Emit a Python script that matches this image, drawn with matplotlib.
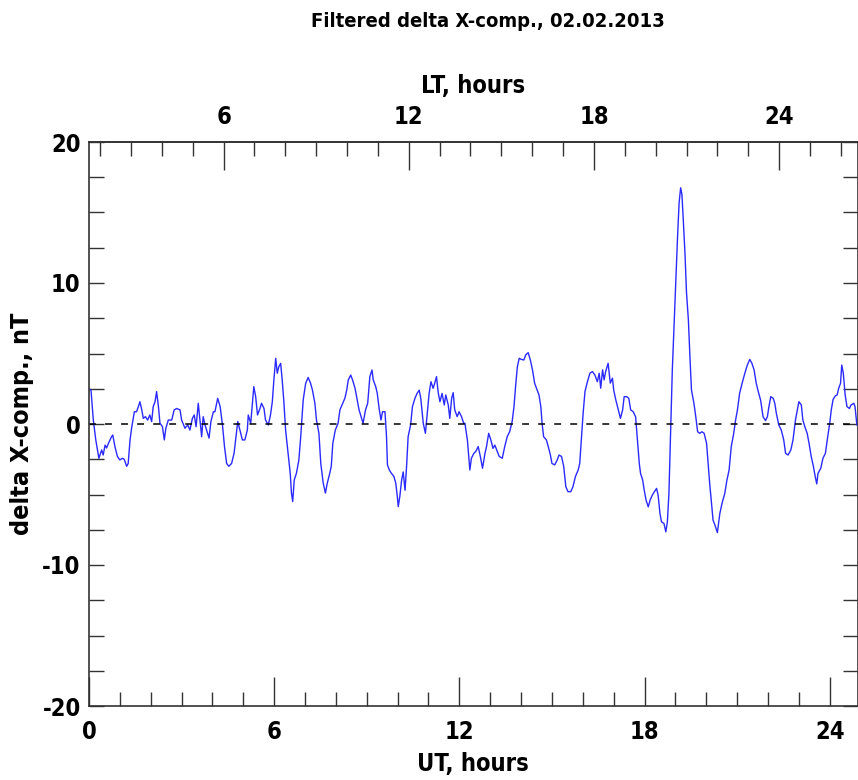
import matplotlib
matplotlib.use("Agg")
import matplotlib.pyplot as plt
from matplotlib.ticker import MultipleLocator, FixedLocator

plt.rcParams["font.family"] = ["DejaVu Sans"]
plt.rcParams["font.stretch"] = "condensed"
plt.rcParams["font.weight"] = "bold"
plt.rcParams["axes.unicode_minus"] = False

# UT hours and filtered delta X (nT)
ut_hours = [
    0.0, 0.065, 0.14, 0.22, 0.32, 0.41, 0.46, 0.52, 0.57, 0.63, 0.73, 0.77, 0.84, 0.92,
    1.0, 1.08, 1.14, 1.22, 1.27, 1.33, 1.38, 1.47, 1.54, 1.6, 1.65, 1.7, 1.76, 1.83, 1.9,
    1.97, 2.03, 2.08, 2.14, 2.19, 2.25, 2.3, 2.38, 2.44, 2.49, 2.57, 2.68, 2.76, 2.84,
    2.95, 3.0, 3.11, 3.2, 3.27, 3.35, 3.41, 3.47, 3.54, 3.59, 3.65, 3.7, 3.76, 3.81,
    3.89, 3.95, 4.03,
    4.08, 4.17, 4.25, 4.33, 4.39, 4.46, 4.53, 4.62, 4.7, 4.75, 4.82, 4.89, 4.97, 5.05,
    5.13, 5.16, 5.24, 5.29, 5.34, 5.4, 5.46, 5.54, 5.59, 5.67, 5.72, 5.81, 5.88, 5.94,
    5.99, 6.05, 6.1, 6.15, 6.21, 6.26, 6.31, 6.37, 6.45, 6.52, 6.56, 6.6, 6.65, 6.72,
    6.8, 6.86, 6.94, 7.02, 7.1, 7.18, 7.24, 7.32, 7.37, 7.45, 7.51, 7.59, 7.66, 7.72,
    7.8, 7.85, 7.9, 7.98, 8.07,
    8.13, 8.22, 8.29, 8.35, 8.4, 8.48, 8.54, 8.62, 8.69, 8.75, 8.83, 8.88, 8.96, 9.03,
    9.1, 9.17, 9.21, 9.29, 9.34, 9.4, 9.46, 9.51, 9.59, 9.64, 9.67, 9.73, 9.8, 9.88,
    9.94, 9.99, 10.02, 10.07, 10.13, 10.18, 10.24, 10.29, 10.34, 10.42, 10.48, 10.56,
    10.63, 10.7, 10.75, 10.83, 10.9, 10.97, 11.02, 11.08, 11.15, 11.2, 11.26, 11.31,
    11.37, 11.44, 11.51, 11.56, 11.64, 11.69, 11.75, 11.8, 11.85, 11.93, 11.99, 12.07,
    12.14,
    12.18, 12.26, 12.34, 12.39, 12.47, 12.53, 12.61, 12.68, 12.75, 12.83, 12.88, 12.95,
    13.02, 13.09, 13.15, 13.23, 13.29, 13.39, 13.47, 13.55, 13.63, 13.71, 13.77, 13.83,
    13.88, 13.94, 14.01, 14.09, 14.15, 14.23, 14.3, 14.37, 14.44, 14.52, 14.58, 14.64,
    14.68, 14.73, 14.82, 14.88, 14.95, 15.0, 15.09, 15.17, 15.23, 15.31, 15.38, 15.45,
    15.52, 15.61, 15.68, 15.76, 15.85, 15.9, 15.96, 16.01, 16.07, 16.15,
    16.23, 16.31, 16.39, 16.47, 16.53, 16.58, 16.64, 16.69, 16.74, 16.82, 16.89, 16.96,
    17.0, 17.07, 17.15, 17.22, 17.29, 17.34, 17.42, 17.49, 17.55, 17.63, 17.71, 17.76,
    17.83, 17.87, 17.94, 17.99, 18.05, 18.12, 18.18, 18.25, 18.32, 18.39, 18.44, 18.5,
    18.55, 18.63, 18.69, 18.74, 18.79, 18.84, 18.9, 18.95, 19.01, 19.07, 19.12, 19.17,
    19.21, 19.25, 19.31, 19.36, 19.42, 19.47, 19.52, 19.6, 19.66, 19.72, 19.79, 19.86,
    19.93, 20.01, 20.06, 20.11, 20.17, 20.22,
    20.28, 20.36, 20.44, 20.51, 20.6, 20.67, 20.74, 20.81, 20.89, 20.95, 21.01, 21.08,
    21.16, 21.25, 21.33, 21.41, 21.48, 21.55, 21.62, 21.7, 21.76, 21.84, 21.92, 21.98,
    22.03, 22.09, 22.17, 22.22, 22.27, 22.35, 22.43, 22.51, 22.57, 22.65, 22.74, 22.81,
    22.89, 22.95, 23.0, 23.08, 23.13, 23.21, 23.27, 23.33, 23.4, 23.47, 23.53, 23.58,
    23.62, 23.71, 23.78, 23.86, 23.92, 24.0, 24.05, 24.11, 24.18, 24.24, 24.29, 24.35,
    24.39, 24.44, 24.5, 24.56, 24.64, 24.69, 24.78, 24.82, 24.88,
]
delta_x = [
    2.5, 2.4, 0.28, -1.13, -2.43, -1.84, -2.2, -1.5, -1.7, -1.37, -0.9, -0.78, -1.6, -2.3,
    -2.55, -2.43, -2.5, -3.0, -2.8, -1.13, -0.3, 0.87, 0.87, 1.23, 1.58, 1.1, 0.4, 0.52, 0.28,
    0.64, 0.17, 1.23, 1.58, 2.3, 1.23, 0.05, -0.19, -1.13, -0.3, 0.28, 0.28, 1.0, 1.1,
    1.0, 0.28, -0.3, -0.07, -0.43, 0.4, 0.64, -0.19, 1.47, 0.4, -0.9, 0.52, -0.07, -0.43,
    -1.0, 0.17, 0.87,
    0.87, 1.82, 1.23, -0.19, -1.6, -2.8, -3.0, -2.8, -2.08, -1.13, 0.17, -0.43, -1.13, -1.13,
    -0.43, 0.64, 0.05, 1.35, 2.65, 1.94, 0.64, 1.1, 1.47, 1.1, 0.28, -0.07, 0.64, 1.58,
    3.12, 4.66, 3.6, 4.07, 4.3, 3.12, 1.7, -0.43, -2.08, -3.5, -4.9, -5.5, -3.97, -3.5,
    -2.55, -0.9, 1.7, 2.88, 3.3, 2.88, 2.4, 1.47, 0.28, -0.66, -2.8, -4.2, -4.9, -4.2,
    -3.5, -3.0, -1.37, -0.43, 0.05,
    1.0, 1.47, 1.82, 2.4, 3.12, 3.47, 3.12, 2.53, 1.7, 1.0, 0.4, 0.05, 1.0, 1.47,
    3.36, 3.83, 3.12, 2.65, 2.17, 1.1, 0.28, 0.87, 0.87, -0.9, -2.9, -3.26, -3.5, -3.73,
    -4.2, -5.15, -5.86, -5.15, -3.97, -3.4, -4.7, -3.0, -0.9, -0.07, 1.23, 1.82,
    2.17, 2.4, 1.82, 0.05, -0.66, 1.0, 2.17, 3.0, 2.53, 2.88, 3.36, 2.3,
    1.58, 2.17, 1.35, 2.06, 1.35, 0.4, 1.82, 2.22, 1.0, 0.52, 0.87, 0.52,
    0.05,
    0.05, -1.13, -3.26, -2.43, -2.08, -1.96, -1.6, -2.3, -3.14, -2.08, -1.6, -0.66,
    -1.13, -1.73, -1.5, -1.96, -2.3, -2.43, -1.6, -0.9, -0.54, 0.17, 1.23, 2.88,
    4.07, 4.66, 4.58, 4.54, 4.9, 5.06, 4.54, 3.83, 2.88, 2.4, 2.06, 1.23,
    0.05, -0.9, -1.13, -1.6, -2.2, -2.8, -2.9, -2.55, -2.2, -2.3, -3.0, -4.45,
    -4.8, -4.8, -4.45, -3.73, -3.26, -2.8, -0.9, 0.76, 2.3, 3.0,
    3.6, 3.72, 3.48, 3.0, 3.6, 2.54, 3.84, 3.13, 3.72, 4.31, 2.9, 3.25,
    2.42, 1.7, 1.0, 0.4, 1.0, 1.94, 1.94, 1.82, 1.0, 0.88, 0.52, -0.9,
    -2.8, -3.5, -3.98, -4.7, -5.4, -5.88, -5.4, -5.05, -4.8, -4.57, -5.05, -6.35,
    -6.94, -7.06, -7.65, -6.94, -4.93, -0.9, 3.84, 6.68, 10.0, 13.3, 15.7, 16.75,
    16.3, 14.7, 12.1, 9.3, 7.4, 4.8, 2.42, 1.47, 0.52, -0.55, -0.66, -0.55,
    -0.66, -1.37, -2.8, -4.2, -5.64, -6.82,
    -7.16, -7.7, -6.34, -5.63, -4.92, -3.97, -3.26, -1.6, -0.66, 0.28, 1.0, 2.17,
    2.88, 3.6, 4.18, 4.58, 4.3, 3.83, 2.88, 2.17, 1.7, 0.52, 0.24, 0.52,
    1.23, 1.94, 1.82, 1.47, 0.76, -0.07, -0.43, -1.13, -2.08, -2.2, -1.84, -1.13,
    0.28, 1.0, 1.58, 1.35, 0.28, -0.3, -0.66, -1.37, -2.3, -3.0, -3.73, -4.25,
    -3.5, -3.14, -2.43, -2.08, -1.13, 0.05, 1.0, 1.75, 1.99, 2.06, 2.53, 2.88,
    4.18, 3.6, 2.06, 1.23, 1.1, 1.35, 1.47, 1.23, -0.07,
]

lt_offset = 1.64  # LT = UT + offset
ut_ticks = [0, 6, 12, 18, 24]
lt_ticks = [6, 12, 18, 24]

fig = plt.figure(figsize=(8.58, 7.8), dpi=100)
ax = fig.add_axes([89 / 858, 74 / 780, 768.5 / 858, 564 / 780])

ax.plot(ut_hours, delta_x, color="#2a2aff", lw=1.0)
ax.axhline(0, color="black", lw=1.1, ls=(0, (4.5, 6)))

ax.set_xlim(0, 24.9)
ax.set_ylim(-20, 20)

ax.xaxis.set_major_locator(FixedLocator(ut_ticks))
ax.xaxis.set_minor_locator(MultipleLocator(1))
ax.yaxis.set_major_locator(MultipleLocator(10))
ax.yaxis.set_minor_locator(MultipleLocator(2.5))

ax.tick_params(axis="x", which="major", direction="in", length=21, width=1, color="#333333",
               labelsize=17, pad=10, top=False)
ax.tick_params(axis="x", which="minor", direction="in", length=10, width=1, color="#333333", top=False)
ax.tick_params(axis="y", which="both", direction="in", length=11, width=1, color="#333333",
               left=True, right=True, labelsize=17, pad=6)

sec = ax.secondary_xaxis("top", functions=(lambda u: u + lt_offset, lambda l: l - lt_offset))
sec.xaxis.set_major_locator(FixedLocator(lt_ticks))
sec.xaxis.set_minor_locator(MultipleLocator(1))
sec.tick_params(axis="x", which="major", direction="in", length=20, width=1, color="#333333",
                labelsize=17, pad=9)
sec.tick_params(axis="x", which="minor", direction="in", length=10, width=1, color="#333333")
sec.set_xlabel("LT, hours", fontsize=17, fontweight="bold", labelpad=9)
sec.spines["top"].set_color("#333333")
sec.spines["top"].set_linewidth(1.2)

for spine in ax.spines.values():
    spine.set_color("#333333")
    spine.set_linewidth(1.2)

for lab in ax.get_xticklabels() + ax.get_yticklabels() + sec.get_xticklabels():
    lab.set_fontweight("bold")

ax.set_xlabel("UT, hours", fontsize=17, fontweight="bold", labelpad=6)
ax.set_ylabel("delta X-comp., nT", fontsize=18, fontweight="bold", labelpad=6)
fig.text(0.569, 0.972, "Filtered delta X-comp., 02.02.2013", ha="center", va="center",
         fontsize=14.5, fontweight="bold")

fig.savefig("out.png", dpi=100)
